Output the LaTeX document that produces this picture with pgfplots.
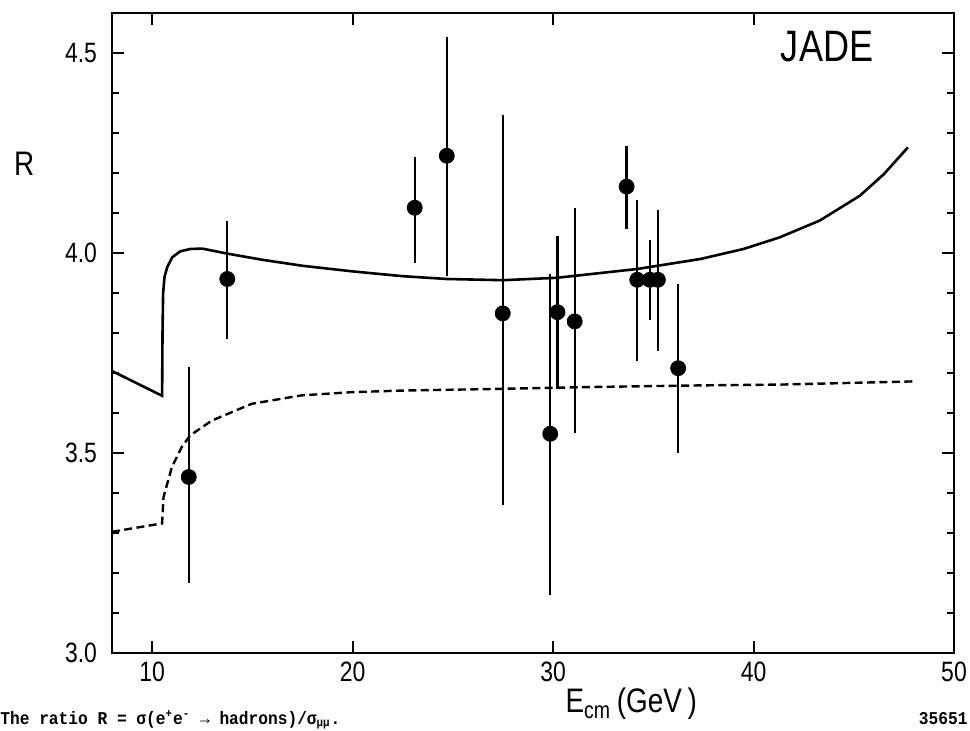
\documentclass[border=0pt]{standalone}
\usepackage{fontspec}
\setmainfont{Liberation Sans}[FakeStretch=0.82]
\newfontfamily\capfont{Liberation Mono}[FakeStretch=0.9]
\usepackage{pgfplots}
\pgfplotsset{compat=1.18}
\usetikzlibrary{calc}
\begin{document}
\begin{tikzpicture}
\begin{axis}[
    width=421pt, height=320pt, scale only axis,
    xmin=8, xmax=50, ymin=3, ymax=4.6,
    xtick={10,20,30,40,50},
    ytick={3,3.5,4,4.5},
    minor ytick={3.1,3.2,3.3,3.4,3.6,3.7,3.8,3.9,4.1,4.2,4.3,4.4},
    tick align=inside,
    major tick length=6pt, minor tick length=3.5pt,
    every tick/.style={black, line width=1pt},
    axis line style={line width=1.3pt},
    ticklabel style={font=\fontsize{14}{16}\selectfont},
    /pgf/number format/assume math mode=true,
    yticklabel style={/pgf/number format/fixed, /pgf/number format/fixed zerofill,
        /pgf/number format/precision=1, xshift=-4pt},
    xticklabel style={yshift=-1pt},
]
% solid curve
\addplot[black, line width=1.3pt] coordinates {
    (8.0,3.705) (10.5,3.643) (10.52,3.80) (10.55,3.90) (10.62,3.94)
    (10.75,3.964) (11.0,3.989) (11.4,4.004) (11.9,4.010) (12.5,4.011)
    (13.8,3.998) (15.5,3.983) (17.5,3.968) (20.0,3.954) (22.5,3.942)
    (24.7,3.935) (27.5,3.932) (30.2,3.938) (31.1,3.943) (34.2,3.960)
    (37.35,3.985) (39.5,4.010) (41.3,4.039) (43.3,4.081) (45.3,4.143)
    (46.5,4.197) (47.7,4.264)
};
% dashed curve
\addplot[black, line width=1.2pt, dash pattern=on 4pt off 2.2pt] coordinates {
    (8.0,3.303) (10.5,3.324) (10.57,3.39) (10.99,3.465) (11.48,3.515)
    (11.9,3.544) (12.98,3.581) (14.97,3.623) (17.45,3.644) (19.94,3.652)
    (22.43,3.656) (27.0,3.660) (32.0,3.665) (37.35,3.669) (41.33,3.671)
    (48.0,3.679)
};
% data
\addplot[black, only marks, mark=*, mark size=3.75pt, mark options={fill=black},
    error bars/.cd, y dir=both, y explicit, error mark=none,
    error bar style={line width=1.2pt}] coordinates {
    (11.83,3.440) += (0,0.274) -= (0,0.265)
    (13.75,3.935) += (0,0.145) -= (0,0.150)
    (23.10,4.113) += (0,0.127) -= (0,0.137)
    (24.70,4.243) += (0,0.297) -= (0,0.300)
    (27.49,3.849) += (0,0.496) -= (0,0.480)
    (29.86,3.548) += (0,0.400) -= (0,0.403)
    (30.22,3.852) += (0,0.191) -= (0,0.191)
    (31.08,3.829) += (0,0.284) -= (0,0.280)
    (33.67,4.166) += (0,0.102) -= (0,0.106)
    (34.20,3.933) += (0,0.200) -= (0,0.204)
    (34.83,3.933) += (0,0.100) -= (0,0.100)
    (35.23,3.933) += (0,0.174) -= (0,0.179)
    (36.24,3.712) += (0,0.211) -= (0,0.213)
};
\coordinate (jade) at (axis cs:43.67,4.515);
\coordinate (rlab) at (axis cs:3.62,4.223);
\coordinate (xlab) at (axis cs:33.9,3.0);
\end{axis}
\node[font=\fontsize{22}{24}\selectfont] at (jade) {JADE};
\node[font=\fontsize{17}{19}\selectfont] at (rlab) {R};
\node[anchor=base, font=\fontsize{17}{19}\selectfont] at ([yshift=-30pt]xlab)
    {E\textsubscript{cm}\,(GeV\,)};
\node[anchor=base west, inner sep=0, font=\capfont\bfseries\fontsize{9}{10}\selectfont]
    at ($(current axis.south west)+(-56pt,-36pt)$)
    {The ratio R = σ(e\textsuperscript{+}e\textsuperscript{-} → hadrons)/σ\textsubscript{μμ}.};
\node[anchor=base east, inner sep=0, font=\capfont\bfseries\fontsize{9}{10}\selectfont]
    at ($(current axis.south east)+(7pt,-36pt)$) {35651};
\pgfresetboundingbox
\useasboundingbox ($(current axis.south west)+(-56pt,-39pt)$)
    rectangle ($(current axis.north east)+(8pt,6.5pt)$);
\end{tikzpicture}
\end{document}
